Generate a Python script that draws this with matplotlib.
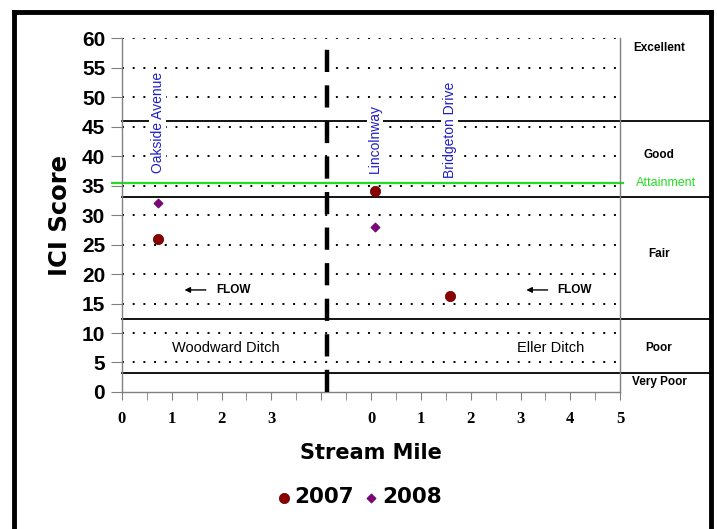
#!/usr/bin/python3
import matplotlib
matplotlib.use('Agg')
import matplotlib.pyplot as plt
from matplotlib.lines import Line2D

# site positions on the plot axis (0-2 = Woodward Ditch, 2.5-5 = Eller Ditch)
sites = ['Oakside Avenue', 'Lincolnway', 'Bridgeton Drive']
site_x = [0.36, 2.54, 3.29]
site_label_bottom = [37.2, 37.2, 36.2]

# ICI scores per year
x_2007 = [0.36, 2.54, 3.29]
ici_2007 = [26.0, 34.0, 16.2]
x_2008 = [0.36, 2.54]
ici_2008 = [32.0, 28.0]

# narrative class boundaries and labels
class_bounds = [46, 33, 12.3, 3.2]
attainment = 35.4
class_names = ['Excellent', 'Good', 'Fair', 'Poor', 'Very Poor']
class_y = [58.3, 40.2, 23.4, 7.4, 1.7]

tick_pos = [0, 0.5, 1, 1.5, 2, 2.5, 3, 3.5, 4, 4.5, 5]
tick_labels = ['0', '1', '2', '3', '', '0', '1', '2', '3', '4', '5']
divider_x = 2.06

fig = plt.figure(figsize=(7.17, 5.29), dpi=100)
ax = fig.add_axes([0.170, 0.259, 0.695, 0.669])
ax.set_xlim(0, 5)
ax.set_ylim(0, 60)

# dotted gridlines
for y in range(5, 61, 5):
    ax.plot([0, 5], [y, y], color='black', linestyle=(0, (1, 4.5)), linewidth=1.4, zorder=1)

# class boundary lines extend past the axes into the label area
for b in class_bounds:
    ax.plot([0, 5.9], [b, b], color='black', linewidth=1.3, clip_on=False, zorder=2)
ax.plot([-0.1, 5.03], [attainment, attainment], color='#22dd22', linewidth=1.6,
        clip_on=False, zorder=2)

ax.axvline(divider_x, color='black', linewidth=3.2, linestyle=(0, (5, 3)), zorder=3)

for name, x, yb in zip(sites, site_x, site_label_bottom):
    ax.text(x, yb, name, rotation=90, ha='center', va='bottom', color='#1e1ec8',
            fontsize=10, family='Liberation Sans', zorder=4,
            bbox=dict(facecolor='white', edgecolor='none', pad=1.0))

ax.scatter(x_2007, ici_2007, marker='o', s=55, color='#8b0000', edgecolors='#5a0000',
           linewidths=0.5, zorder=5, label='2007')
ax.scatter(x_2008, ici_2008, marker='D', s=22, color='#800080', edgecolors='#5a005a',
           linewidths=0.5, zorder=5, label='2008')

# flow arrows and stream names
for xa, xt in [(0.77, 0.95), (4.2, 4.37)]:
    ax.annotate('', xy=(xa - 0.17, 17.3), xytext=(xa + 0.1, 17.3),
                arrowprops=dict(arrowstyle='-|>', color='black', lw=1.0, mutation_scale=8))
    ax.text(xt, 17.3, 'FLOW', fontsize=8.5, fontweight='bold', family='Liberation Sans',
            va='center', ha='left')
ax.text(1.04, 7.4, 'Woodward Ditch', fontsize=10.5, family='Liberation Sans', ha='center', va='center')
ax.text(4.3, 7.4, 'Eller Ditch', fontsize=10.5, family='Liberation Sans', ha='center', va='center')

for name, y in zip(class_names, class_y):
    ax.text(5.39, y, name, fontsize=8.5, fontweight='bold', family='Liberation Sans',
            ha='center', va='center')
ax.text(5.16, attainment, 'Attainment', fontsize=9, color='#22dd22',
        family='Liberation Sans', ha='left', va='center')

ax.set_xticks(tick_pos)
ax.set_xticklabels(tick_labels, fontsize=12, fontweight='bold', family='Liberation Serif')
ax.set_xticks([i * 0.25 for i in range(21)], minor=True)
ax.tick_params(axis='x', which='both', length=6, color='gray', pad=8)
ax.set_yticks(range(0, 61, 5))
ax.set_yticklabels([str(v) for v in range(0, 61, 5)], fontsize=15, fontweight='bold',
                   family='Liberation Sans')
ax.tick_params(axis='y', length=8, color='gray', pad=4)

for side in ['left', 'right', 'bottom']:
    ax.spines[side].set_color('gray')
    ax.spines[side].set_linewidth(1.0)
ax.spines['top'].set_visible(False)

ax.set_xlabel('Stream Mile', fontsize=15, fontweight='bold', labelpad=11)
ax.set_ylabel('ICI Score', fontsize=17.5, fontweight='bold', labelpad=7)

ax.legend(loc='upper center', bbox_to_anchor=(0.475, -0.215), ncol=2, frameon=False,
          prop={'weight': 'bold', 'size': 15.5}, handletextpad=0.1, columnspacing=0.4,
          handlelength=0.8)

# outer frame (left, top, right)
for xs, ys in [([0.020, 0.020], [0, 0.978]), ([0.020, 0.991], [0.978, 0.978]),
               ([0.991, 0.991], [0.978, 0])]:
    fig.add_artist(Line2D(xs, ys, color='black', linewidth=3.5, transform=fig.transFigure))

fig.savefig('out.png', dpi=100)
